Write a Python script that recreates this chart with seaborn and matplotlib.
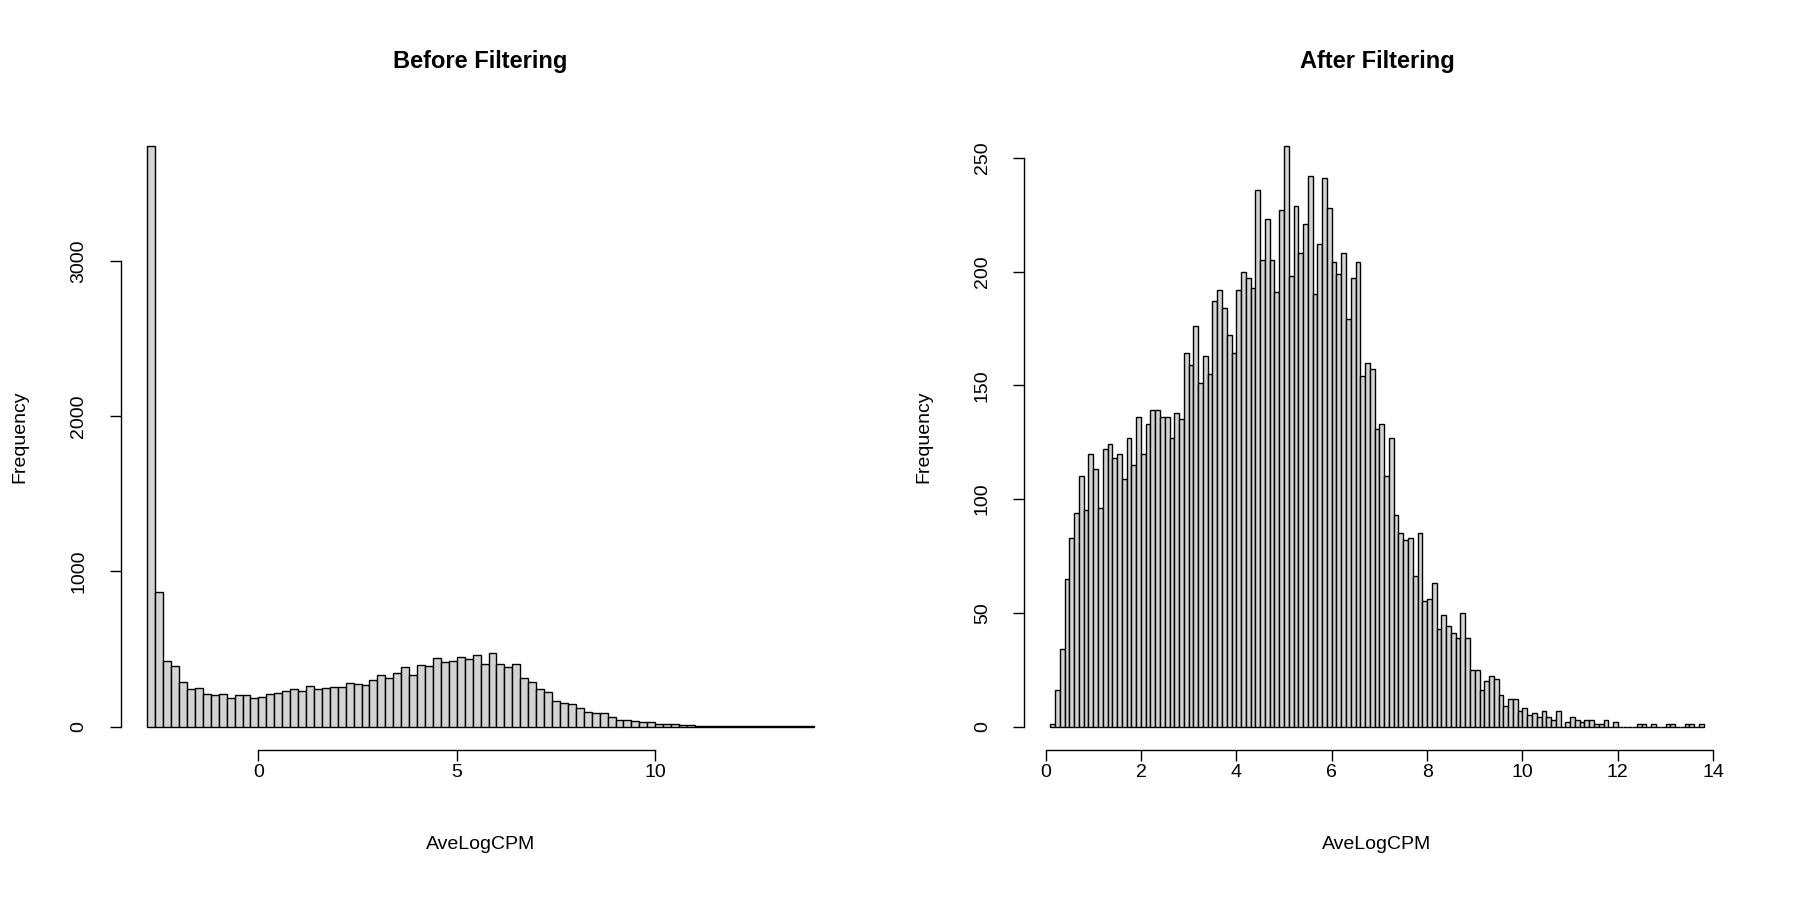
import numpy as np
import pandas as pd
import matplotlib
matplotlib.use("Agg")
import matplotlib.pyplot as plt
import seaborn as sns

# Before filtering: bins of width 0.2 starting at -2.8
before_start = -2.8
before_width = 0.2
before_counts = [3740, 870, 423, 388, 285, 240, 247, 212, 204, 210, 187, 200, 200, 182,
                 189, 212, 219, 227, 240, 227, 262, 245, 249, 253, 253, 281, 277, 266,
                 300, 335, 315, 343, 382, 330, 395, 390, 444, 418, 420, 448, 438, 464,
                 401, 472, 401, 382, 401, 315, 288, 242, 221, 167, 152, 144, 118, 94,
                 84, 90, 64, 43, 39, 34, 26, 26, 17, 13, 13, 9,
                 7, 6, 5, 5, 4, 3, 3, 2, 2, 2, 1, 1, 1, 1, 1, 1]

# After filtering: bins of width 0.1 starting at 0.1
after_start = 0.1
after_width = 0.1
after_counts = [1, 16, 34, 65, 83, 94, 110, 95, 120, 113, 96, 122, 124, 118, 120, 109,
                127, 115, 136, 120, 133, 139, 139, 136, 136, 127, 138, 135, 164, 159,
                176, 151, 163, 155, 187, 192, 184, 172, 164, 192, 200, 197, 193, 236,
                205, 223, 205, 191, 227, 255, 198, 229, 208, 221, 242, 190, 212, 241,
                228, 204, 199, 208, 179, 197, 204, 154, 160, 157, 131, 133, 110, 127,
                93, 85, 82, 83, 66, 85, 55, 56, 63, 43, 49, 44, 41, 39, 50, 39, 25, 25,
                16, 20, 22, 21, 14, 9, 12, 12, 7, 8, 5, 6, 4, 7, 4, 3, 7, 0,
                2, 4, 3, 2, 3, 3, 1, 1, 3, 0, 2, 0, 0, 0, 0, 1, 1, 0, 1, 0, 0,
                1, 1, 0, 0, 1, 1, 0, 1]


def hist_panel(ax, start, width, counts, title, xticks, yticks):
    n = len(counts)
    edges = np.round(start + width * np.arange(n + 1), 6)
    df = pd.DataFrame({"x": edges[:-1] + width / 2, "w": counts})
    sns.histplot(data=df, x="x", weights="w", bins=edges.tolist(), ax=ax,
                 color="#d3d3d3", edgecolor="black", linewidth=1.0, alpha=1.0)
    lo, hi = edges[0], edges[-1]
    pad = 0.04 * (hi - lo)
    ax.set_xlim(lo - pad, hi + pad)
    top = max(counts)
    ax.set_ylim(-0.04 * top, top * 1.04)
    for s in ["top", "right"]:
        ax.spines[s].set_visible(False)
    for s in ["bottom", "left"]:
        ax.spines[s].set_color("black")
        ax.spines[s].set_linewidth(1.0)
    ax.spines["bottom"].set_bounds(xticks[0], xticks[-1])
    ax.spines["left"].set_bounds(yticks[0], yticks[-1])
    ax.set_xticks(xticks)
    ax.set_yticks(yticks)
    ax.tick_params(axis="both", direction="out", length=8, width=1, colors="black",
                   labelsize=14, bottom=True, left=True)
    ax.tick_params(axis="y", pad=16)
    ax.tick_params(axis="x", pad=2)
    for lab in ax.get_yticklabels():
        lab.set_rotation(90)
        lab.set_va("center")
    ax.set_title(title, fontsize=17, fontweight="bold", y=1.075, color="black")
    ax.set_xlabel("AveLogCPM", fontsize=14, labelpad=40, color="black")
    ax.set_ylabel("Frequency", fontsize=14, labelpad=30, color="black")


sns.set_style("white")
plt.rcParams["font.family"] = ["Liberation Sans", "DejaVu Sans"]
fig = plt.figure(figsize=(18, 9), dpi=100)
ax1 = fig.add_axes([0.067, 0.167, 0.400, 0.696])
ax2 = fig.add_axes([0.569, 0.167, 0.392, 0.696])

hist_panel(ax1, before_start, before_width, before_counts, "Before Filtering",
           [0, 5, 10], [0, 1000, 2000, 3000])
hist_panel(ax2, after_start, after_width, after_counts[:139], "After Filtering",
           list(range(0, 15, 2)), [0, 50, 100, 150, 200, 250])

fig.savefig("out.png", dpi=100)
